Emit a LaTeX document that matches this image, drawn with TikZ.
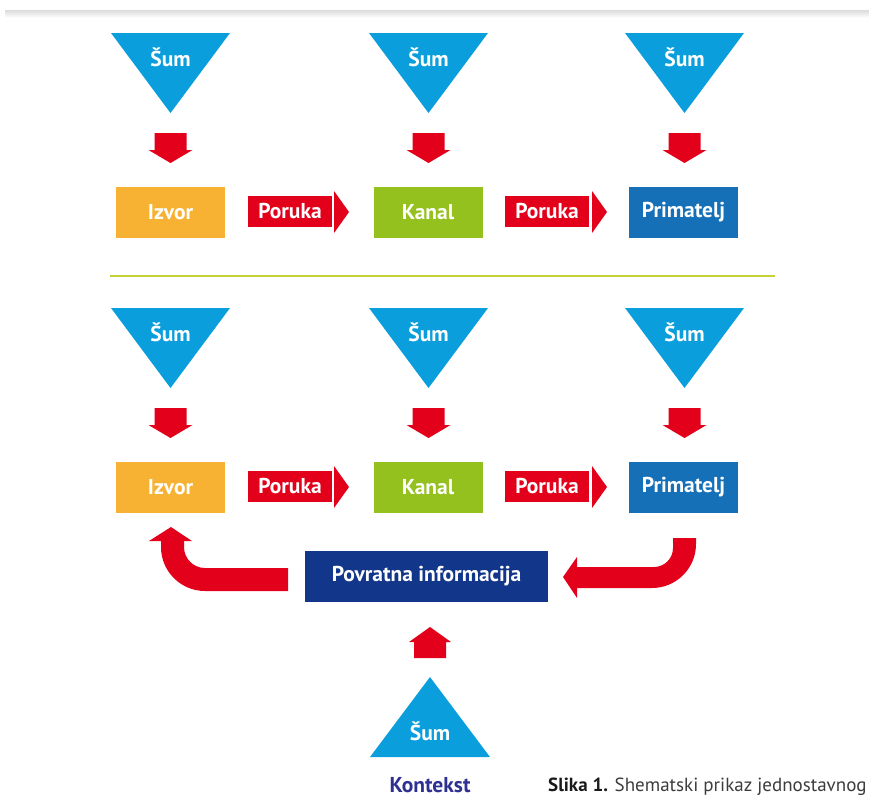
\documentclass[tikz,border=0pt]{standalone}
\usepackage{fontspec}
\setmainfont{PT Sans}
\definecolor{sumblue}{HTML}{0A9EDC}
\definecolor{arrred}{HTML}{E2001A}
\definecolor{izvorc}{HTML}{F7B233}
\definecolor{kanalc}{HTML}{95C11F}
\definecolor{primc}{HTML}{1570B8}
\definecolor{povc}{HTML}{12378A}
\definecolor{kontc}{HTML}{2E3192}
\definecolor{sepc}{HTML}{C5D337}
\definecolor{capc}{HTML}{3C3C3C}
\tikzset{
  lbl/.style={text=white, font=\bfseries\fontsize{21.5}{24}\selectfont, inner sep=0pt},
  box/.style={lbl, fill=#1, minimum width=109pt, minimum height=51pt},
  msg/.style={lbl, fill=arrred, minimum width=84pt, minimum height=31pt},
  pics/sumdown/.style={code={
    \fill[sumblue] (-59.5,0) -- (59.5,0) -- (0,80) -- cycle;
    \node[lbl] (-t) at (0,24) {Šum};}},
  pics/sumup/.style={code={
    \fill[sumblue] (-60,0) -- (60,0) -- (0,-80) -- cycle;
    \node[lbl] (-t) at (0,-26) {Šum};}},
  pics/reddown/.style={code={
    \fill[arrred] (-16,0) -- (16,0) -- (16,17) -- (22,17) -- (0,30) -- (-22,17) -- (-16,17) -- cycle;}},
  pics/headright/.style={code={
    \fill[arrred] (0,-21) -- (15,0) -- (0,21) -- cycle;}},
}
\begin{document}
\begin{tikzpicture}[x=1pt,y=-1pt]
\useasboundingbox (0,0) rectangle (869,798);
% faint top band
\shade[top color=black!14, bottom color=white] (5,10) rectangle (869,18);

% ---------- top row ----------
\foreach \cx/\n in {170.5/a,428.5/b,684.5/c}{
  \pic (st\n) at (\cx,33) {sumdown};
  \pic at (\cx,133) {reddown};
}
\node[box=izvorc] (izvor1) at (170.5,212.5) {Izvor};
\node[box=kanalc] (kanal1) at (428,212.5) {Kanal};
\node[box=primc] (prim1) at (683.5,212.5) {Primatelj};
\node[msg] (por1a) at (290,211.5) {Poruka};
\pic at (334,212) {headright};
\node[msg] (por1b) at (547,211.5) {Poruka};
\pic at (592,212) {headright};

% separator
\draw[sepc, line width=2pt] (110,276) -- (775,276);

% ---------- bottom row ----------
\foreach \cx/\n in {170.5/a,428.5/b,684.5/c}{
  \pic (sb\n) at (\cx,308) {sumdown};
  \pic at (\cx,408) {reddown};
}
\node[box=izvorc] (izvor2) at (170.5,487.5) {Izvor};
\node[box=kanalc] (kanal2) at (428,487.5) {Kanal};
\node[box=primc] (prim2) at (683.5,487.5) {Primatelj};
\node[msg] (por2a) at (290,486.5) {Poruka};
\pic at (334,487) {headright};
\node[msg] (por2b) at (547,486.5) {Poruka};
\pic at (592,487) {headright};

% feedback box
\node[lbl, fill=povc, minimum width=243pt, minimum height=51pt] (povr) at (426.5,576.5) {Povratna informacija};

% left curved arrow (to Izvor)
\fill[arrred] (288,568) -- (205,568) .. controls (193.4,568) and (184,558.6) .. (184,547)
  -- (184,541) -- (192,541) -- (171,527) -- (149,541) -- (161,541) -- (161,547)
  .. controls (161,571.3) and (180.7,591) .. (205,591) -- (288,591) -- cycle;

% right curved arrow (from Primatelj)
\fill[arrred] (577,567) -- (654,567) .. controls (664.5,567) and (673,558.5) .. (673,548)
  -- (673,538) -- (696,538) -- (696,544) .. controls (696,568.3) and (676.3,588) .. (652,588)
  -- (577,588) -- (577,598) -- (563,577) -- (577,557) -- cycle;

% up arrow from context
\fill[arrred] (414,658) -- (446,658) -- (446,642) -- (451,642) -- (430,627) -- (409,642) -- (414,642) -- cycle;

% context triangle
\pic (sctx) at (430,757) {sumup};
\node[text=kontc, font=\bfseries\fontsize{21.5}{24}\selectfont, anchor=base, inner sep=0pt] (kont) at (430,792) {Kontekst};

% caption
\node[anchor=base west, inner sep=0pt, text=capc, font=\fontsize{19}{22}\selectfont] (cap) at (548,791)
  {\textcolor{black!90}{\bfseries Slika 1.} Shematski prikaz jednostavnog};
\end{tikzpicture}
\end{document}
